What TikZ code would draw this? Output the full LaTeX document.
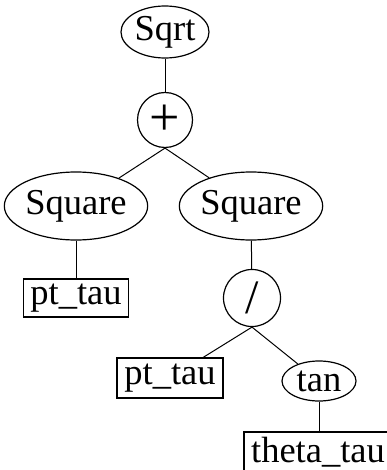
\documentclass[tikz,border=0pt]{standalone}
\usepackage{fontspec}
\setmainfont{Liberation Serif}
\usetikzlibrary{shapes.geometric}
\usetikzlibrary{arrows,shapes}

\tikzset{
  opnode/.style={ellipse, draw, line width=1.2pt, inner sep=0pt},
  leafbox/.style={rectangle, draw, line width=1.2pt, inner sep=0pt},
  treeedge/.style={line width=1pt}
}

\begin{document}
\begin{tikzpicture}[x=1pt, y=-1pt, font=\fontsize{36.5}{40}\selectfont]
\useasboundingbox (0,0) rectangle (387,470);
\clip (0,0) rectangle (387,470);

\node[opnode, minimum width=88pt, minimum height=52pt] (sqrt) at (165,32) {Sqrt};
\node[opnode, circle, minimum size=55pt, font=\fontsize{54}{54}\selectfont] (plus) at (165,120) {+};
\node[opnode, minimum width=138pt, minimum height=68pt] (sqL) at (76,206) {Square};
\node[opnode, minimum width=138pt, minimum height=68pt] (sqR) at (251,206) {Square};
\node[leafbox, minimum width=105pt, minimum height=38pt] (ptL) at (76,298) {pt\_tau};
\node[opnode, circle, minimum size=57pt, font=\fontsize{48}{48}\selectfont] (div) at (252,298) {/};
\node[leafbox, minimum width=106pt, minimum height=40pt] (ptR) at (170,378) {pt\_tau};
\node[opnode, minimum width=74pt, minimum height=40pt] (tan) at (319,381) {tan};
\node[leafbox, minimum width=148pt, minimum height=40pt] (theta) at (318,452) {theta\_tau};

\draw[treeedge] (sqrt) -- (plus);
\draw[treeedge] (plus.south) -- (sqL);
\draw[treeedge] (plus.south) -- (sqR);
\draw[treeedge] (sqL) -- (ptL);
\draw[treeedge] (sqR) -- (div);
\draw[treeedge] (div.south) -- (ptR);
\draw[treeedge] (div.south) -- (tan);
\draw[treeedge] (tan.south) -- (tan.south |- theta.north);
\end{tikzpicture}
\end{document}
